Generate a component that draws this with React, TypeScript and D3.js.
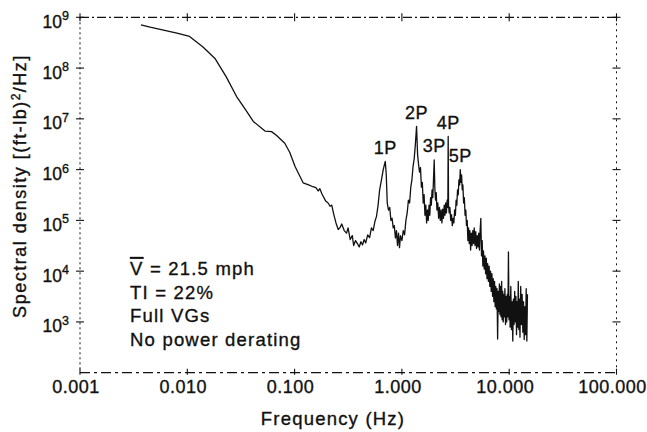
import React from 'react';
import * as d3 from 'd3';

const W = 647;
const H = 432;

// Axis ticks
const xTicks = [0.001, 0.01, 0.1, 1, 10, 100];
const xTickLabels = ['0.001', '0.010', '0.100', '1.000', '10.000', '100.000'];
const yTicks = [1e3, 1e4, 1e5, 1e6, 1e7, 1e8, 1e9];
const yExponents = ['3', '4', '5', '6', '7', '8', '9'];

// Spectrum: [frequency (Hz), spectral density ((ft-lb)^2/Hz)]
const lowBand: [number, number][] = [
  [0.0037, 7.1e8], [0.0045, 6.4e8], [0.006, 5.6e8], [0.008, 4.9e8], [0.0105, 4.2e8],
  [0.014, 2.6e8], [0.0181, 1.55e8], [0.023, 6.8e7], [0.0288, 2.75e7], [0.035, 1.5e7],
  [0.0412, 8.9e6], [0.053, 5.75e6], [0.061, 5.6e6], [0.068, 4.7e6], [0.081, 3.3e6],
  [0.09, 2.2e6], [0.101, 1.15e6], [0.12, 5.5e5], [0.135, 5.0e5], [0.148, 4.6e5],
  [0.158, 4.4e5], [0.166, 3.8e5], [0.172, 4.2e5], [0.18, 3.3e5], [0.195, 2.4e5],
  [0.205, 2.2e5], [0.214, 1.9e5], [0.222, 2.0e5], [0.232, 1.3e5], [0.243, 8.9e4],
  [0.255, 6.6e4], [0.265, 7.2e4], [0.275, 8.5e4], [0.29, 6.3e4], [0.305, 5.6e4],
  [0.315, 7.1e4], [0.33, 4.2e4], [0.345, 5.0e4], [0.355, 3.2e4], [0.37, 4.0e4],
  [0.385, 3.5e4], [0.4, 3.0e4], [0.415, 3.8e4], [0.43, 3.3e4], [0.445, 4.2e4],
  [0.46, 3.6e4], [0.48, 5.2e4], [0.5, 4.6e4], [0.52, 7.1e4], [0.54, 6.3e4],
  [0.56, 9.5e4], [0.58, 1.2e5], [0.6, 2.0e5], [0.62, 4.0e5], [0.645, 6.3e5],
  [0.67, 1.0e6], [0.69, 1.3e6], [0.7, 1.45e6], [0.715, 7.9e5], [0.73, 2.2e5],
];

const rotorBand: [number, number][] = [
  [0.75, 1.6e5], [0.77, 1.8e5], [0.79, 1.0e5], [0.81, 1.1e5], [0.83, 7.1e4],
  [0.85, 7.9e4], [0.87, 4.5e4], [0.89, 6.3e4], [0.91, 3.2e4], [0.93, 5.6e4],
  [0.95, 2.9e4], [0.97, 5.0e4], [1.0, 4.0e4], [1.03, 6.3e4], [1.06, 5.2e4],
  [1.09, 1.0e5], [1.12, 1.4e5], [1.15, 2.5e5], [1.18, 2.2e5], [1.21, 4.5e5],
  [1.24, 6.3e5], [1.27, 1.15e6], [1.3, 1.6e6], [1.33, 2.8e6], [1.37, 7.1e6],
  [1.4, 2.0e6], [1.43, 1.26e6], [1.46, 8.9e5], [1.49, 1.1e6], [1.52, 4.5e5],
  [1.55, 5.6e5], [1.58, 2.2e5], [1.61, 3.2e5], [1.64, 1.26e5], [1.67, 2.0e5],
  [1.7, 8.9e4], [1.73, 1.6e5], [1.76, 1.0e5], [1.79, 2.0e5], [1.82, 1.26e5],
  [1.85, 2.8e5], [1.88, 2.0e5], [1.91, 4.0e5], [1.94, 2.8e5], [1.97, 6.3e5],
  [2.0, 1.55e6], [2.03, 4.0e5], [2.06, 2.5e5], [2.09, 3.5e5], [2.12, 1.6e5],
  [2.16, 2.2e5], [2.2, 1.1e5], [2.24, 1.8e5], [2.28, 1.0e5], [2.32, 1.6e5],
  [2.36, 8.9e4], [2.4, 1.66e5], [2.44, 1.1e5], [2.48, 2.0e5], [2.52, 1.26e5],
  [2.56, 2.2e5], [2.6, 1.4e5], [2.64, 2.5e5], [2.68, 1.8e5], [2.7, 4.5e6],
  [2.72, 2.0e5], [2.76, 1.4e5], [2.8, 1.8e5], [2.85, 1.0e5], [2.9, 1.3e5],
  [2.95, 7.9e4], [3.0, 1.1e5],
];

const noiseTail: [number, number][] = [
  [3.05, 8.9e4], [3.1, 1.6e5], [3.15, 1.26e5], [3.2, 2.5e5], [3.25, 2.0e5],
  [3.3, 4.0e5], [3.35, 3.2e5], [3.4, 6.3e5], [3.45, 5.0e5], [3.5, 1.0e6],
  [3.55, 5.6e5], [3.6, 7.9e5], [3.65, 4.0e5], [3.7, 5.0e5], [3.76, 2.2e5],
  [3.82, 2.8e5], [3.88, 1.26e5], [3.94, 1.6e5], [4.0, 7.9e4], [4.06, 1.0e5],
  [4.12, 4.0e4], [4.18, 7.1e4], [4.24, 3.5e4], [4.3, 6.3e4], [4.37, 2.6e4],
  [4.44, 5.6e4], [4.51, 3.2e4], [4.58, 6.3e4], [4.65, 3.5e4], [4.72, 7.1e4],
  [4.8, 3.2e4], [4.88, 6.0e4], [4.96, 2.8e4], [5.04, 5.0e4], [5.12, 3.0e4],
  [5.2, 5.6e4], [5.28, 2.6e4], [5.36, 6.3e4], [5.44, 1.1e5], [5.52, 2.0e4],
  [5.6, 4.0e4], [5.68, 1.26e4], [5.76, 2.5e4], [5.85, 1.1e4], [5.94, 2.0e4],
  [6.03, 8.9e3], [6.12, 1.8e4], [6.21, 7.1e3], [6.3, 1.4e4], [6.4, 6.3e3],
  [6.5, 1.26e4], [6.6, 5.0e3], [6.7, 1.0e4], [6.8, 4.0e3], [6.9, 8.9e3],
  [7.0, 3.2e3], [7.1, 7.1e3], [7.2, 2.5e3], [7.3, 6.3e3], [7.4, 2.0e3],
  [7.5, 5.0e3], [7.6, 1.8e3], [7.7, 4.5e3], [7.8, 4.6e2], [7.9, 4.0e3],
  [8.0, 1.6e3], [8.1, 5.6e3], [8.2, 1.4e3], [8.3, 5.0e3], [8.4, 1.26e3],
  [8.5, 6.3e3], [8.6, 1.1e3], [8.7, 4.0e3], [8.8, 1.0e3], [8.9, 3.5e3],
  [9.0, 1.26e3], [9.12, 4.5e3], [9.24, 8.9e2], [9.36, 3.2e3], [9.48, 1.0e3],
  [9.6, 3.5e3], [9.72, 1.26e3], [9.84, 2.4e4], [9.96, 1.1e3], [10.1, 3.2e3],
  [10.2, 7.9e2], [10.35, 5.0e3], [10.5, 7.1e2], [10.65, 2.5e3], [10.8, 4.2e2],
  [10.95, 2.8e3], [11.1, 8.9e2], [11.25, 4.0e3], [11.4, 1.0e3], [11.55, 3.2e3],
  [11.7, 5.6e2], [11.85, 2.5e3], [12.0, 7.9e2], [12.15, 6.3e3], [12.3, 7.1e2],
  [12.45, 2.8e3], [12.6, 5.0e2], [12.8, 5.0e3], [13.0, 8.9e2], [13.2, 3.5e3],
  [13.4, 6.3e2], [13.6, 2.5e3], [13.8, 4.5e2], [14.0, 2.0e3], [14.2, 5.6e2],
  [14.4, 4.5e3], [14.6, 4.2e2], [14.8, 3.5e3],
];

// Rotor harmonic peaks
const peakLabels = ['1P', '2P', '3P', '4P', '5P'];
const peakFreqs = [0.7, 1.37, 2.0, 2.7, 3.5];
const peakValues = [1.45e6, 7.1e6, 1.55e6, 4.5e6, 1.0e6];

// Annotation lines
const notes = ['= 21.5 mph', 'TI = 22%', 'Full VGs', 'No power derating'];

const FONT = '"Liberation Sans", Arial, Helvetica, sans-serif';

export default function App() {
  const x = d3.scaleLog().domain([0.001, 100]).range([80, 616.5]);
  const y = d3.scaleLog().domain([1e2, 1e9]).range([372.7, 17.3]);
  const [x0, x1] = x.range();
  const [yb, yt] = y.range();

  const series = [...lowBand, ...rotorBand, ...noiseTail];
  const line = d3
    .line<[number, number]>()
    .x((d) => x(d[0]))
    .y((d) => y(d[1]));

  const ink = '#111';
  const textStroke = { stroke: ink, strokeWidth: 0.35 };

  return (
    <svg
      width={W}
      height={H}
      viewBox={`0 0 ${W} ${H}`}
      style={{ position: 'absolute', left: 0, top: 0, background: '#fff' }}
      fontFamily={FONT}
    >
      <rect x={0} y={0} width={W} height={H} fill="#fff" />
      {/* frame */}
      <line x1={x0} y1={yt} x2={x1} y2={yt} stroke={ink} strokeWidth={1.2} strokeDasharray="9,3,2,3" />
      <line x1={x0} y1={yb} x2={x1} y2={yb} stroke={ink} strokeWidth={1.2} strokeDasharray="10,4,3,4" />
      <line x1={x0} y1={yt} x2={x0} y2={yb} stroke={ink} strokeWidth={1} strokeDasharray="2,3" />
      <line x1={x1} y1={yt} x2={x1} y2={yb} stroke={ink} strokeWidth={1} strokeDasharray="2,4" />

      {/* y ticks (both sides) */}
      {yTicks.map((t, i) => (
        <g key={'yt' + i}>
          <line x1={x0 - 4} x2={x0 + 4} y1={y(t)} y2={y(t)} stroke={ink} strokeWidth={1.1} />
          <line x1={x1 - 4} x2={x1 + 4} y1={y(t)} y2={y(t)} stroke={ink} strokeWidth={1.1} />
          <text x={69} y={y(t) + 10.5} textAnchor="end" fontSize={17.5} fill={ink} {...textStroke}>
            10
            <tspan dy={-7.5} fontSize={12.5}>
              {yExponents[i]}
            </tspan>
          </text>
        </g>
      ))}

      {/* x ticks (top and bottom) */}
      {xTicks.map((t, i) => (
        <g key={'xt' + i}>
          <line x1={x(t)} x2={x(t)} y1={yt - 4} y2={yt + 4} stroke={ink} strokeWidth={1.1} />
          <line x1={x(t)} x2={x(t)} y1={yb - 4} y2={yb + 2} stroke={ink} strokeWidth={1.1} />
          <text
            x={x(t) - 4}
            y={393}
            textAnchor="middle"
            fontSize={18}
            letterSpacing={0.5}
            fill={ink}
            {...textStroke}
          >
            {xTickLabels[i]}
          </text>
        </g>
      ))}

      {/* spectrum */}
      <path d={line(series) ?? ''} fill="none" stroke={ink} strokeWidth={1.3} strokeLinejoin="round" />

      {/* peak labels */}
      {peakLabels.map((lab, i) => (
        <text
          key={lab}
          x={x(peakFreqs[i])}
          y={y(peakValues[i]) - 7.5}
          textAnchor="middle"
          fontSize={18}
          letterSpacing={0.5}
          fill={ink}
          {...textStroke}
        >
          {lab}
        </text>
      ))}

      {/* annotations */}
      <g fontSize={18.5} letterSpacing={1.2} fill={ink} {...textStroke}>
        <text x={130} y={275}>
          <tspan style={{ textDecoration: 'overline' }}>V</tspan> {notes[0]}
        </text>
        <text x={130} y={298.5}>{notes[1]}</text>
        <text x={130} y={322}>{notes[2]}</text>
        <text x={130} y={345.5}>{notes[3]}</text>
      </g>

      {/* axis titles */}
      <text
        x={333}
        y={425}
        textAnchor="middle"
        fontSize={18.5}
        letterSpacing={1.2}
        fill={ink}
        {...textStroke}
      >
        Frequency (Hz)
      </text>
      <text
        transform="translate(26,186) rotate(-90)"
        textAnchor="middle"
        fontSize={18}
        letterSpacing={1.5}
        fill={ink}
        {...textStroke}
      >
        Spectral density [(ft-lb)
        <tspan dy={-6.5} fontSize={12}>
          2
        </tspan>
        <tspan dy={6.5}>/Hz]</tspan>
      </text>
    </svg>
  );
}
